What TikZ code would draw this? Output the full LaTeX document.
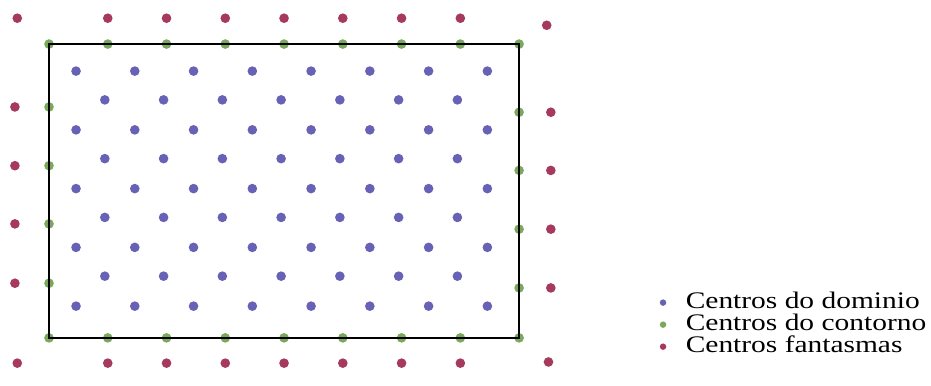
\documentclass[tikz,border=0pt]{standalone}
\usepackage{fontspec}
\newfontfamily\legendfont[FakeStretch=1.24]{Liberation Serif}

\definecolor{dominio}{RGB}{104,98,182}
\definecolor{contorno}{RGB}{122,168,92}
\definecolor{fantasma}{RGB}{166,58,92}

\begin{document}
\begin{tikzpicture}[x=1cm, y=-1cm,
        ponto/.style={radius=0.082},
        pontolegenda/.style={radius=0.055},
        legenda/.style={anchor=base west, inner sep=0pt, font=\legendfont\fontsize{11.5}{13}\selectfont}]
        \useasboundingbox (-0.834,-0.75) rectangle (15.01,5.81);

        % centros fantasmas
        \foreach \x in {1,...,7} {
            \fill[fantasma, ponto] (\x,-0.44) circle;
            \fill[fantasma, ponto] (\x,5.43) circle;
        }
        \foreach \y in {1.07,2.07,3.06,4.07}
            \fill[fantasma, ponto] (-0.58,\y) circle;
        \foreach \y in {1.16,2.15,3.15,4.15}
            \fill[fantasma, ponto] (8.54,\y) circle;
        \fill[fantasma, ponto] (-0.54,-0.44) circle;
        \fill[fantasma, ponto] (8.47,-0.32) circle;
        \fill[fantasma, ponto] (-0.54,5.43) circle;
        \fill[fantasma, ponto] (8.50,5.41) circle;

        % centros do contorno
        \foreach \x in {0,...,8} {
            \fill[contorno, ponto] (\x,0) circle;
            \fill[contorno, ponto] (\x,5) circle;
        }
        \foreach \y in {1.07,2.07,3.06,4.07}
            \fill[contorno, ponto] (0,\y) circle;
        \foreach \y in {1.16,2.15,3.15,4.15}
            \fill[contorno, ponto] (8,\y) circle;

        % centros do dominio
        \foreach \i in {0,...,7}
            \foreach \j in {0,...,4}
                \fill[dominio, ponto] (0.46+\i,0.46+\j) circle;
        \foreach \i in {0,...,6}
            \foreach \j in {0,...,3}
                \fill[dominio, ponto] (0.95+\i,0.95+\j) circle;

        % contorno
        \draw[line width=1.1pt] (0,0) rectangle (8,5);

        % legenda
        \node[legenda] (legdominio) at (10.83,4.50) {Centros do dominio};
        \node[legenda] (legcontorno) at (10.83,4.875) {Centros do contorno};
        \node[legenda] (legfantasma) at (10.83,5.25) {Centros fantasmas};
        \fill[dominio, pontolegenda] ([xshift=-0.38cm, yshift=0.1cm]legdominio.base west) circle;
        \fill[contorno, pontolegenda] ([xshift=-0.38cm, yshift=0.1cm]legcontorno.base west) circle;
        \fill[fantasma, pontolegenda] ([xshift=-0.38cm, yshift=0.1cm]legfantasma.base west) circle;
    \end{tikzpicture}
\end{document}
